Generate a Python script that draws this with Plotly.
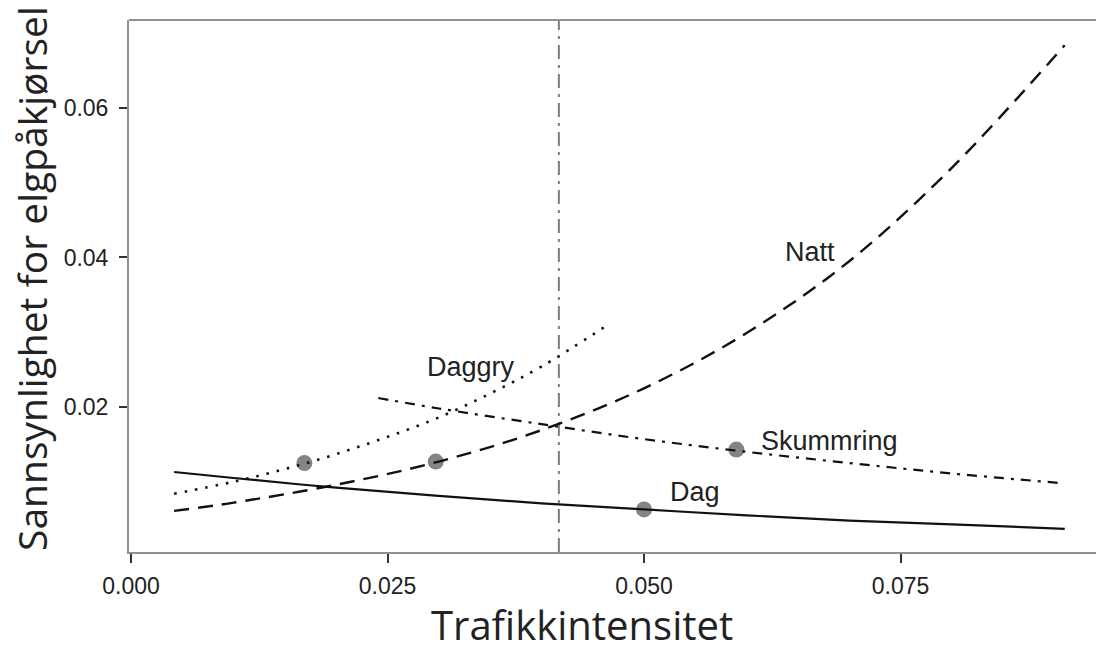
import plotly.graph_objects as go

# Traffic intensity (x) and estimated probability of moose collision per period of day
dag_x = [0.0042, 0.010, 0.020, 0.030, 0.040, 0.050, 0.060, 0.070, 0.080, 0.091]
dag_y = [0.0113, 0.0105, 0.0092, 0.0081, 0.0071, 0.0063, 0.0055, 0.0048, 0.0043, 0.0037]

natt_x = [0.0042, 0.010, 0.020, 0.030, 0.040, 0.050, 0.060, 0.070, 0.080, 0.091]
natt_y = [0.0061, 0.0072, 0.0096, 0.0127, 0.0169, 0.0225, 0.0299, 0.0395, 0.0520, 0.0684]

daggry_x = [0.0042, 0.010, 0.015, 0.020, 0.025, 0.030, 0.035, 0.040, 0.0467]
daggry_y = [0.0084, 0.0100, 0.0117, 0.0137, 0.0160, 0.0186, 0.0218, 0.0254, 0.0312]

skum_x = [0.0241, 0.030, 0.040, 0.050, 0.060, 0.070, 0.080, 0.0908]
skum_y = [0.0212, 0.0198, 0.0177, 0.0157, 0.0140, 0.0125, 0.0111, 0.0098]

# Observed mean traffic per period (grey points)
point_x = [0.0169, 0.0297, 0.0500, 0.0590]
point_y = [0.0125, 0.0127, 0.0063, 0.0143]

# Period labels placed next to their curves
label_text = ["Natt", "Daggry", "Skummring", "Dag"]
label_x = [0.0662, 0.0331, 0.0681, 0.0550]
label_y = [0.0407, 0.0254, 0.0155, 0.0086]

threshold_x = 0.0417

x_ticks = [0.000, 0.025, 0.050, 0.075]
x_tick_text = ["0.000", "0.025", "0.050", "0.075"]
y_ticks = [0.02, 0.04, 0.06]
y_tick_text = ["0.02", "0.04", "0.06"]

AXIS_GREY = "#978f8c"
TEXT = "#222222"
TICK_FONT = dict(family="Liberation Sans, Arial, sans-serif", size=23, color=TEXT)

fig = go.Figure()

fig.add_trace(go.Scatter(
    x=point_x, y=point_y, mode="markers",
    marker=dict(size=16, color="#888383", line=dict(width=0)),
    showlegend=False, hoverinfo="skip"))

curve_styles = [
    (dag_x, dag_y, "solid", 2.2),
    (natt_x, natt_y, "15px,9px", 2.4),
    (daggry_x, daggry_y, "2.5px,8px", 2.6),
    (skum_x, skum_y, "10px,7px,3px,7px", 2.2),
]
for xs, ys, dash, w in curve_styles:
    fig.add_trace(go.Scatter(
        x=xs, y=ys, mode="lines",
        line=dict(color="#111111", width=w, dash=dash, shape="spline", smoothing=1.0),
        showlegend=False, hoverinfo="skip"))

fig.add_vline(x=threshold_x, line=dict(color="#7d7d7d", width=2, dash="14px,6px,3px,6px"),
              layer="below")

for t, lx, ly in zip(label_text, label_x, label_y):
    fig.add_annotation(x=lx, y=ly, xref="x", yref="y", text=t, showarrow=False,
                       font=dict(family="Liberation Sans, Arial, sans-serif", size=27, color=TEXT),
                       xanchor="center", yanchor="middle")

# Axis titles (positions given in pixels, converted below)
fig.add_annotation(x=582, y=654, xref="paper", yref="paper", text="Trafikkintensitet",
                   showarrow=False, font=dict(family="Open Sans, sans-serif", size=40, color=TEXT),
                   xanchor="center", yanchor="bottom")
fig.add_annotation(x=31, y=279, xref="paper", yref="paper", text="Sannsynlighet for elgpåkjørsel",
                   textangle=-90, showarrow=False,
                   font=dict(family="Open Sans, sans-serif", size=39, color=TEXT),
                   xanchor="center", yanchor="middle")

# Top border of the panel
fig.add_shape(type="line", xref="paper", yref="paper", x0=0, x1=1, y0=1, y1=1,
              line=dict(color=AXIS_GREY, width=2))

W, H = 1096, 655
L, T, B = 129, 20, 103

fig.update_layout(
    width=W, height=H,
    margin=dict(l=L, r=0, t=T, b=B, pad=0),
    plot_bgcolor="white", paper_bgcolor="white",
    showlegend=False,
    xaxis=dict(range=[-0.000195, 0.09405], tickvals=x_ticks, ticktext=x_tick_text,
               showgrid=False, zeroline=False, showline=True, linecolor=AXIS_GREY, linewidth=2,
               ticks="outside", ticklen=9, tickwidth=2, tickcolor="#333333",
               tickfont=TICK_FONT, ticklabelstandoff=3),
    yaxis=dict(range=[0.0006, 0.07177], tickvals=y_ticks, ticktext=y_tick_text,
               showgrid=False, zeroline=False, showline=True, linecolor=AXIS_GREY, linewidth=2,
               ticks="outside", ticklen=8, tickwidth=2, tickcolor="#333333",
               tickfont=TICK_FONT, ticklabelstandoff=6),
)

# Convert pixel positions of the axis titles to paper coordinates
plot_w = W - L
plot_h = H - T - B
for ann in fig.layout.annotations:
    if ann.xref == "paper":
        px, py = ann.x, ann.y
        ann.x = (px - L) / plot_w
        ann.y = 1 - (py - T) / plot_h

fig.write_html("out.html")
